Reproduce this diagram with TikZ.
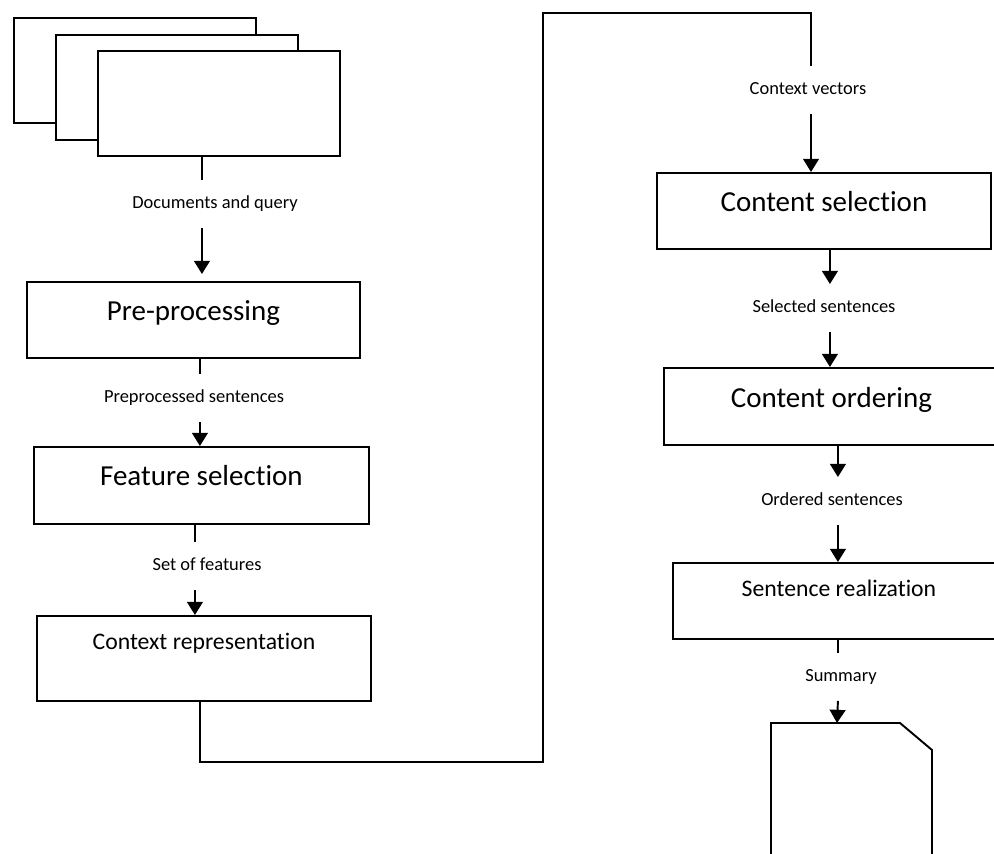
\documentclass[tikz,border=0pt]{standalone}
\usepackage{fontspec}
\setmainfont{Carlito}[Ligatures=CommonOff]
\usetikzlibrary{arrows.meta}
\begin{document}
\begin{tikzpicture}[x=0.02cm, y=-0.02cm, line width=1.1pt,
  stepbox/.style={draw, fill=white, inner sep=0pt, anchor=north west},
  bigtext/.style={font=\fontsize{16.5}{20}\selectfont},
  midtext/.style={font=\fontsize{13.5}{16}\selectfont},
  flowlabel/.style={font=\fontsize{10.5}{12}\selectfont, inner sep=0pt, minimum height=0.92cm, text height=7pt, text depth=2pt},
  docsheet/.style={draw, fill=white, anchor=north west, minimum width=4.84cm, minimum height=2.1cm},
  flow/.style={-{Triangle[width=9pt,length=7.5pt]}}]
  \useasboundingbox (0,0) rectangle (994,854);
  \clip (0,0) rectangle (994,854);
  \foreach \i/\x/\y in {1/13/17, 2/55/34, 3/97/50}
    \node[docsheet] (doc\i) at (\x,\y) {};
  \node[stepbox, bigtext, minimum width=6.66cm, text height=0.78cm, text depth=0.74cm] (pre) at (26,281) {Pre-processing};
  \node[stepbox, bigtext, minimum width=6.70cm, text height=0.78cm, text depth=0.76cm] (feat) at (33,446) {Feature selection};
  \node[stepbox, midtext, minimum width=6.68cm, text height=0.68cm, text depth=1.02cm] (ctx) at (36,615) {Context representation};
  \node[stepbox, bigtext, minimum width=6.68cm, text height=0.78cm, text depth=0.74cm] (csel) at (656,172) {Content selection};
  \node[stepbox, bigtext, minimum width=6.70cm, text height=0.80cm, text depth=0.74cm] (cord) at (663,367) {Content ordering};
  \node[stepbox, midtext, minimum width=6.64cm, text height=0.68cm, text depth=0.84cm] (sreal) at (672,562) {Sentence realization};
  \node[flowlabel] (l1) at (215,204) {Documents and query};
  \node[flowlabel] (l2) at (194,398) {Preprocessed sentences};
  \node[flowlabel] (l3) at (207,566) {Set of features};
  \node[flowlabel] (l4) at (808,90) {Context vectors};
  \node[flowlabel] (l5) at (824,308) {Selected sentences};
  \node[flowlabel] (l6) at (832,501) {Ordered sentences};
  \node[flowlabel] (l7) at (841,677) {Summary};
  \coordinate (x1) at ([xshift=-0.34cm]doc3.south);
  \coordinate (x2) at ([xshift=0.13cm]pre.south);
  \coordinate (x3) at ([xshift=-0.13cm]feat.south);
  \coordinate (x4) at ([xshift=-0.08cm]ctx.south);
  \coordinate (x5) at ([xshift=0.12cm]csel.south);
  \coordinate (x6) at ([xshift=0.13cm]cord.south);
  \coordinate (x7) at ([xshift=-0.02cm]sreal.south);
  \coordinate (turn1) at (543,762);
  \coordinate (turn2) at (811,13);
  \coordinate (sumtop) at (837,723);
  \draw (x1) -- (x1 |- l1.north);
  \draw[flow, shorten >=0.14cm] (x1 |- l1.south) -- (x1 |- pre.north);
  \draw (x2) -- (x2 |- l2.north);
  \draw[flow] (x2 |- l2.south) -- (x2 |- feat.north);
  \draw (x3) -- (x3 |- l3.north);
  \draw[flow] (x3 |- l3.south) -- (x3 |- ctx.north);
  \draw (x4) |- (turn1) |- (turn2) -- (turn2 |- l4.north);
  \draw[flow] (turn2 |- l4.south) -- (turn2 |- csel.north);
  \draw[flow] (x5) -- (x5 |- l5.north);
  \draw[flow] (x5 |- l5.south) -- (x5 |- cord.north);
  \draw[flow] (x6) -- (x6 |- l6.north);
  \draw[flow] (x6 |- l6.south) -- (x6 |- sreal.north);
  \draw (x7) -- (x7 |- l7.north);
  \draw[flow] (x7 |- l7.south) -- (sumtop);
  \draw (771,880) -- (771,723) -- (900,723) -- (932,750) -- (932,880);
\end{tikzpicture}
\end{document}
